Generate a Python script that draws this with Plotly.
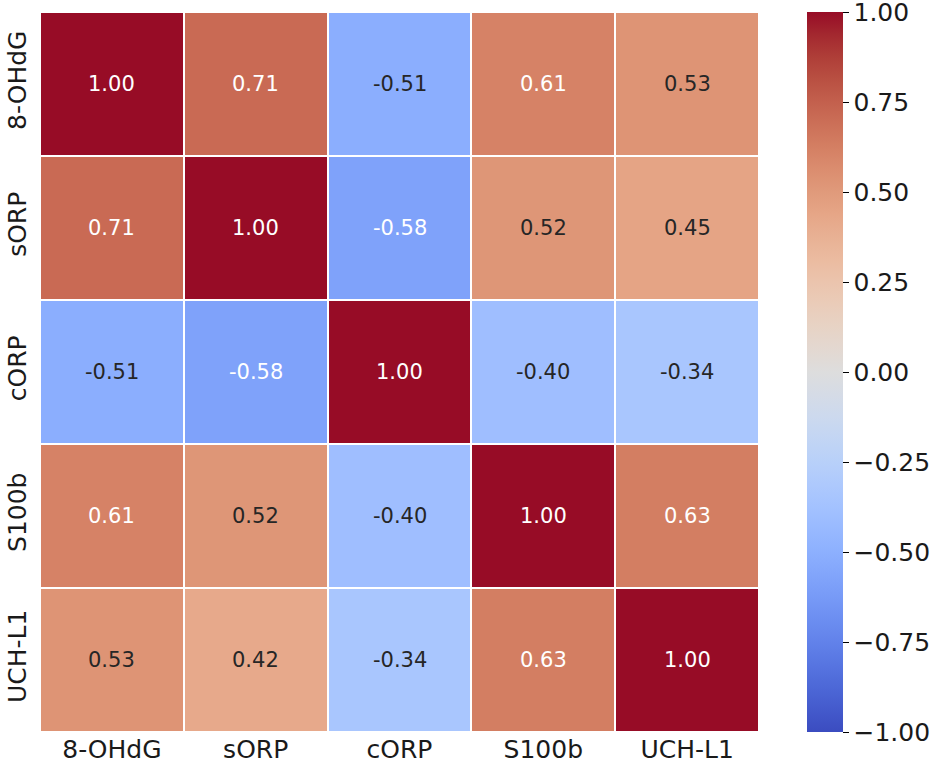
import plotly.graph_objects as go

labels = ["8-OHdG", "sORP", "cORP", "S100b", "UCH-L1"]
row_8ohdg = [1.00, 0.71, -0.51, 0.61, 0.53]
row_sorp = [0.71, 1.00, -0.58, 0.52, 0.45]
row_corp = [-0.51, -0.58, 1.00, -0.40, -0.34]
row_s100b = [0.61, 0.52, -0.40, 1.00, 0.63]
row_uchl1 = [0.53, 0.42, -0.34, 0.63, 1.00]
matrix = [row_8ohdg, row_sorp, row_corp, row_s100b, row_uchl1]
cbar_vals = [-1.0, -0.75, -0.5, -0.25, 0.0, 0.25, 0.5, 0.75, 1.0]
cbar_text = ["\u22121.00", "\u22120.75", "\u22120.50", "\u22120.25", "0.00", "0.25", "0.50", "0.75", "1.00"]

cw_base = [
    (59, 76, 192), (68, 90, 204), (77, 104, 215), (87, 117, 225), (98, 130, 234),
    (108, 142, 241), (119, 154, 247), (130, 165, 251), (141, 176, 254), (152, 185, 255),
    (163, 194, 255), (174, 201, 253), (184, 208, 249), (194, 213, 244), (204, 217, 238),
    (213, 219, 230), (221, 221, 221), (229, 216, 209), (236, 211, 197), (241, 204, 185),
    (245, 196, 173), (247, 187, 160), (247, 177, 148), (247, 166, 135), (244, 154, 123),
    (241, 141, 111), (236, 127, 99), (229, 112, 88), (222, 96, 77), (213, 80, 66),
    (203, 62, 56), (192, 40, 47), (180, 4, 38),
]
n = len(cw_base) - 1
cw = []
for i, (r, g, b) in enumerate(cw_base):
    t = i / n
    f = 1.0 - 0.16 * max(0.0, (t - 0.5) / 0.5)
    g2 = g + (8 if i == n else 0)
    cw.append((round(r * f), g2, b))
colorscale = [[i / n, "rgb(%d,%d,%d)" % c] for i, c in enumerate(cw)]


def color_at(v):
    t = (v + 1) / 2 * n
    i = min(int(t), n - 1)
    f = t - i
    return [cw_base[i][k] + (cw_base[i + 1][k] - cw_base[i][k]) * f for k in range(3)]


def lum(rgb):
    out = []
    for c in rgb:
        c = c / 255
        out.append(c / 12.92 if c <= 0.03928 else ((c + 0.055) / 1.055) ** 2.4)
    return 0.2126 * out[0] + 0.7152 * out[1] + 0.0722 * out[2]


fig = go.Figure(
    go.Heatmap(
        z=matrix,
        x=labels,
        y=labels,
        zmin=-1,
        zmax=1,
        colorscale=colorscale,
        xgap=2,
        ygap=2,
        colorbar=dict(
            x=1.0667,
            xanchor="left",
            y=0.5,
            yanchor="middle",
            len=1.0,
            lenmode="fraction",
            thickness=36,
            thicknessmode="pixels",
            outlinewidth=0,
            xpad=0,
            ypad=0,
            tickmode="array",
            tickvals=cbar_vals,
            ticktext=cbar_text,
            ticks="outside",
            ticklen=6,
            tickwidth=1.2,
            tickcolor="black",
            ticklabeloverflow="allow",
            tickfont=dict(family="DejaVu Sans", size=25, color="#1a1a1a"),
        ),
        hoverinfo="skip",
    )
)

annotations = []
for r, row in enumerate(matrix):
    for c, v in enumerate(row):
        col = "#262626" if lum(color_at(v)) > 0.408 else "white"
        annotations.append(
            dict(
                x=labels[c],
                y=labels[r],
                text="%.2f" % v,
                showarrow=False,
                font=dict(family="DejaVu Sans", size=21, color=col),
            )
        )

fig.update_layout(
    width=931,
    height=767,
    margin=dict(l=40, r=172, t=12, b=35, autoexpand=False),
    paper_bgcolor="white",
    plot_bgcolor="white",
    annotations=annotations,
    xaxis=dict(
        showgrid=False,
        zeroline=False,
        ticks="",
        tickfont=dict(family="DejaVu Sans", size=25, color="#1a1a1a"),
    ),
    yaxis=dict(
        showgrid=False,
        zeroline=False,
        ticks="",
        autorange="reversed",
        tickangle=-90,
        ticklabelstandoff=8,
        tickfont=dict(family="DejaVu Sans", size=25, color="#1a1a1a"),
    ),
)

fig.write_html(
    "out.html",
    config={"displayModeBar": False},
    post_script="document.body.style.margin='0';document.body.style.overflow='hidden';",
)
